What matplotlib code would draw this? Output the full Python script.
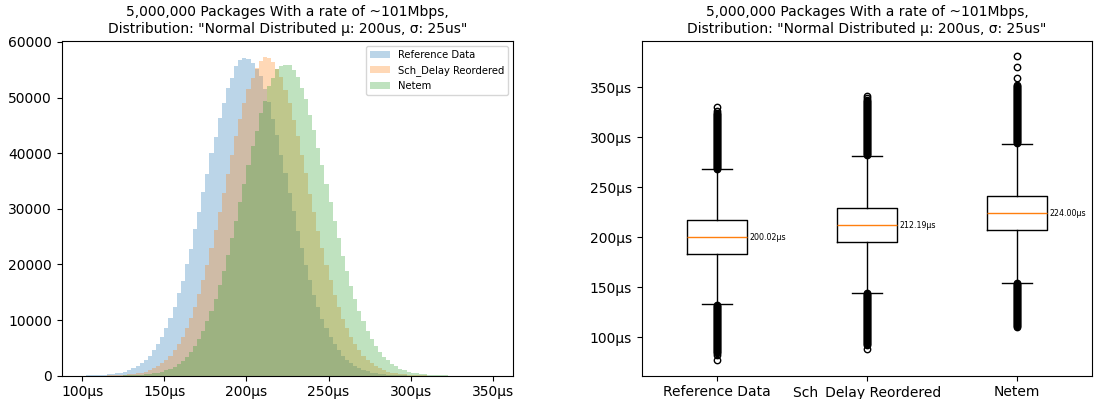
import numpy as np
import matplotlib.pyplot as plt
from matplotlib.ticker import FuncFormatter

title = '5,000,000 Packages With a rate of ~101Mbps,\nDistribution: "Normal Distributed µ: 200us, σ: 25us"'
names = ['Reference Data', 'Sch_Delay Reordered', 'Netem']

# histogram heights, 2.5us bins from 100us to 350us
bin_lo, bin_hi, n_bins = 100, 350, 100

ref_counts = [
    20, 30, 50, 70, 100, 150, 210, 290, 400, 540,
    740, 980, 1300, 1710, 2210, 2840, 3610, 4550, 5660, 6980,
    8530, 10310, 12350, 14800, 17050, 20150, 22800, 26300, 29350, 33100,
    36200, 39950, 42900, 46400, 49000, 51800, 53600, 55700, 56800, 57200,
    56900, 56300, 55200, 53900, 51500, 49200, 46100, 43250, 39650, 36450,
    32800, 29550, 26050, 23000, 19900, 17250, 14550, 12400, 10250, 8560,
    6950, 5680, 4530, 3620, 2830, 2220, 1700, 1310, 970, 750,
    540, 400, 290, 210, 150, 100, 70, 50, 30, 20,
    10, 10, 5, 5, 0, 0, 0, 0, 0, 0,
    0, 0, 0, 0, 0, 0, 0, 0, 0, 0,
]

sch_counts = [
    0, 0, 5, 5, 10, 20, 30, 50, 70, 100,
    150, 210, 290, 400, 540, 740, 980, 1300, 1700, 2200,
    2830, 3600, 4540, 5650, 6970, 8510, 10290, 12330, 14600, 17150,
    19920, 22900, 26100, 29430, 32840, 36300, 39720, 43030, 46150, 49000,
    51500, 53600, 55250, 56600, 57300, 57100, 56400, 55100, 53750, 51400,
    49100, 46000, 43100, 39600, 36350, 32700, 29500, 26000, 22900, 19850,
    17150, 14550, 12300, 10250, 8500, 6960, 5640, 4540, 3600, 2830,
    2200, 1700, 1300, 980, 740, 540, 400, 290, 210, 150,
    100, 70, 50, 30, 20, 10, 10, 5, 5, 0,
    0, 0, 0, 0, 0, 0, 0, 0, 0, 0,
]

netem_counts = [
    0, 0, 0, 0, 0, 0, 0, 10, 15, 20,
    30, 50, 70, 110, 150, 210, 290, 390, 530, 720,
    950, 1250, 1640, 2120, 2720, 3440, 4320, 5370, 6610, 8070,
    9740, 11660, 13810, 16210, 18830, 21670, 24700, 27880, 31160, 34500,
    37820, 41250, 44000, 47200, 49450, 52000, 53500, 55200, 55600, 55900,
    55800, 55000, 53700, 51700, 49700, 46900, 44250, 40950, 37900, 34400,
    31250, 27800, 24750, 21600, 18900, 16150, 13850, 11620, 9760, 8050,
    6620, 5360, 4330, 3430, 2730, 2110, 1650, 1250, 950, 720,
    530, 390, 290, 210, 150, 110, 70, 50, 30, 20,
    15, 10, 5, 5, 5, 0, 0, 0, 0, 0,
]

# box plot statistics (us)
medians = [200.02, 212.19, 224.00]
q1s = [183.4, 195.7, 207.6]
q3s = [216.9, 229.5, 241.7]
whis_lo = [133.1, 144.4, 154.7]
whis_hi = [267.9, 281.1, 293.7]

ref_fliers = [
    77, 82, 84, 85, 86, 87, 88, 89, 90, 91, 92, 93,
    94, 95, 96, 97, 98, 99, 100, 101, 102, 103, 104, 105,
    106, 107, 108, 109, 110, 111, 112, 113, 114, 115, 116, 117,
    118, 119, 120, 121, 122, 123, 124, 125, 126, 127, 128, 129,
    130, 131, 132,
    268, 269, 270, 271, 272, 273, 274, 275, 276, 277, 278, 279,
    280, 281, 282, 283, 284, 285, 286, 287, 288, 289, 290, 291,
    292, 293, 294, 295, 296, 297, 298, 299, 300, 301, 302, 303,
    304, 305, 306, 307, 308, 309, 310, 311, 312, 313, 314, 315,
    316, 317, 318, 319, 320, 321, 322, 323, 324, 326, 330,
]
sch_fliers = [
    88, 92, 93, 94, 95, 96, 97, 98, 99, 100, 101, 102,
    103, 104, 105, 106, 107, 108, 109, 110, 111, 112, 113, 114,
    115, 116, 117, 118, 119, 120, 121, 122, 123, 124, 125, 126,
    127, 128, 129, 130, 131, 132, 133, 134, 135, 136, 137, 138,
    139, 140, 141, 142, 143, 144,
    282, 283, 284, 285, 286, 287, 288, 289, 290, 291, 292, 293,
    294, 295, 296, 297, 298, 299, 300, 301, 302, 303, 304, 305,
    306, 307, 308, 309, 310, 311, 312, 313, 314, 315, 316, 317,
    318, 319, 320, 321, 322, 323, 324, 325, 326, 327, 328, 329,
    330, 331, 332, 333, 334, 335, 336, 337, 339, 341,
]
netem_fliers = [
    110, 111, 112, 113, 114, 115, 116, 117, 118, 119, 120, 121,
    122, 123, 124, 125, 126, 127, 128, 129, 130, 131, 132, 133,
    134, 135, 136, 137, 138, 139, 140, 141, 142, 143, 144, 145,
    146, 147, 148, 149, 150, 151, 152, 153, 154,
    294, 295, 296, 297, 298, 299, 300, 301, 302, 303, 304, 305,
    306, 307, 308, 309, 310, 311, 312, 313, 314, 315, 316, 317,
    318, 319, 320, 321, 322, 323, 324, 325, 326, 327, 328, 329,
    330, 331, 332, 333, 334, 335, 336, 337, 338, 339, 340, 341,
    342, 343, 344, 345, 346, 347, 348, 349, 350, 351, 352,
    359, 370, 381,
]


fig = plt.figure(figsize=(10.94, 3.99), dpi=100)
ax1 = fig.add_axes([0.0564, 0.0585, 0.4128, 0.8387])
ax2 = fig.add_axes([0.5866, 0.0585, 0.4118, 0.8387])

edges = np.linspace(bin_lo, bin_hi, n_bins + 1)
centers = (edges[:-1] + edges[1:]) / 2
for counts, name in zip([ref_counts, sch_counts, netem_counts], names):
    ax1.hist(centers, bins=edges, weights=counts, alpha=0.3, label=name)

us_fmt = FuncFormatter(lambda v, p: '%dµs' % v)
ax1.xaxis.set_major_formatter(us_fmt)
ax1.set_xticks([100, 150, 200, 250, 300, 350])
ax1.set_title(title, fontsize=10)
ax1.tick_params(labelsize=10)
ax1.legend(fontsize=7.2, loc='upper right')

stats = []
for i, fl in enumerate([ref_fliers, sch_fliers, netem_fliers]):
    stats.append(dict(label=names[i], med=medians[i], q1=q1s[i], q3=q3s[i],
                      whislo=whis_lo[i], whishi=whis_hi[i], fliers=fl))
ax2.bxp(stats, widths=0.4,
        flierprops=dict(marker='o', markersize=4.6, markerfacecolor='none',
                        markeredgecolor='black', markeredgewidth=1.0))
for i, m in enumerate(medians):
    ax2.text(i + 1 + 0.215, m, '%.2fµs' % m, fontsize=5.7, va='center')

ax2.yaxis.set_major_formatter(us_fmt)
ax2.set_yticks([100, 150, 200, 250, 300, 350])
ax2.set_title(title, fontsize=10)
ax2.tick_params(labelsize=10)

fig.savefig('out.png', dpi=100)
